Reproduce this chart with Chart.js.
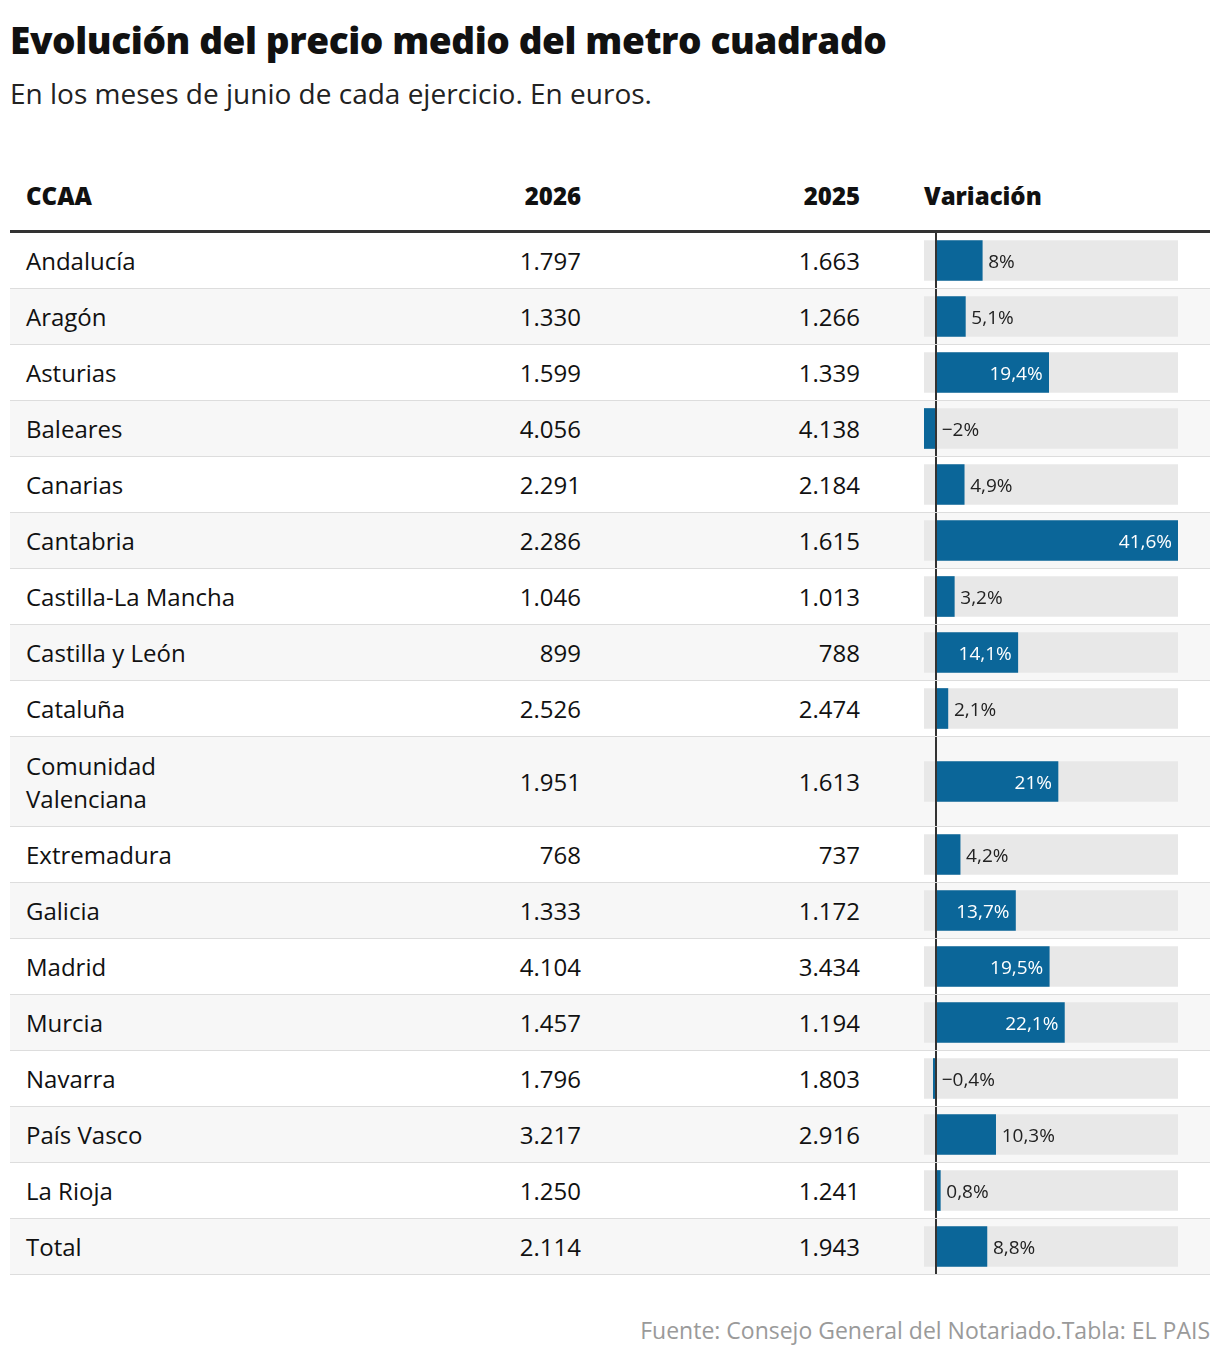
<!DOCTYPE html>
<html><head><meta charset="utf-8">
<script src="https://cdn.jsdelivr.net/npm/chart.js@4/dist/chart.umd.min.js"></script>
<style>
body{margin:0;background:#fff;font-family:"Open Sans",Roboto,sans-serif;color:#111;width:1220px;}
h1{position:absolute;left:10px;top:14px;margin:0;font-size:37px;font-weight:800;letter-spacing:-0.4px}
.sub{position:absolute;left:10px;top:74px;font-size:28px;color:#222}
table{position:absolute;left:10px;top:160px;width:1200px;border-collapse:collapse;font-size:24px}
th{font-weight:800;height:70px;border-bottom:3px solid #333;text-align:left;padding:0}
td{padding:0;border-bottom:1px solid #ddd;height:55px}
tr:nth-child(even) td{background:#f7f7f7}
.c1{padding-left:16px;width:424px}
.c2{text-align:right;width:131px}
.c3{text-align:right;width:279px}
.c4{position:relative;padding-left:64px}
.ch{position:absolute;left:64px;top:0;width:254px;height:100%}
.src{position:absolute;right:10px;top:1314px;font-size:23px;color:#9a9a9a}
</style></head><body>
<h1>Evolución del precio medio del metro cuadrado</h1>
<div class="sub">En los meses de junio de cada ejercicio. En euros.</div>
<table><thead><tr><th class="c1">CCAA</th><th class="c2">2026</th><th class="c3">2025</th><th class="c4" style="padding-left:64px">Variación</th></tr></thead><tbody id="tb"></tbody></table>
<div class="src">Fuente: Consejo General del Notariado.Tabla: EL PAIS</div>
<script>
const regions=["Andalucía","Aragón","Asturias","Baleares","Canarias","Cantabria","Castilla-La Mancha","Castilla y León","Cataluña","Comunidad<br>Valenciana","Extremadura","Galicia","Madrid","Murcia","Navarra","País Vasco","La Rioja","Total"];
const price2026=["1.797","1.330","1.599","4.056","2.291","2.286","1.046","899","2.526","1.951","768","1.333","4.104","1.457","1.796","3.217","1.250","2.114"];
const price2025=["1.663","1.266","1.339","4.138","2.184","1.615","1.013","788","2.474","1.613","737","1.172","3.434","1.194","1.803","2.916","1.241","1.943"];
const variation=[8,5.1,19.4,-2,4.9,41.6,3.2,14.1,2.1,21,4.2,13.7,19.5,22.1,-0.4,10.3,0.8,8.8];
const varMin=-2, varMax=41.6;
const tb=document.getElementById('tb');
const fmt=v=>(v<0?'−':'')+String(Math.abs(v)).replace('.',',')+'%';
regions.forEach((r,i)=>{
  const tr=document.createElement('tr');
  const h=i===9?89:55;
  tr.innerHTML=`<td class="c1" style="height:${h}px">${r}</td><td class="c2">${price2026[i]}</td><td class="c3">${price2025[i]}</td><td class="c4"><div class="ch"><canvas></canvas></div></td>`;
  tb.appendChild(tr);
  const v=variation[i];
  const labelPlugin={id:'lbl',afterDatasetsDraw(c){
    const ctx=c.ctx,x=c.scales.x,y=c.scales.y;
    const yy=y.getPixelForValue(0)+2;const inside=v>=13;
    ctx.save();ctx.font='19px "Open Sans"';ctx.textBaseline='middle';
    if(inside){ctx.fillStyle='#fff';ctx.textAlign='right';ctx.fillText(fmt(v),x.getPixelForValue(v)-6,yy);}
    else{ctx.fillStyle='#222';ctx.textAlign='left';ctx.fillText(fmt(v),x.getPixelForValue(Math.max(v,0))+6,yy);}
    ctx.restore();}};
  new Chart(tr.querySelector('canvas'),{type:'bar',
    data:{labels:[''],datasets:[
      {data:[[0,v]],backgroundColor:'#0b6699',barThickness:40,grouped:false,order:0},
      {data:[[varMin,varMax]],backgroundColor:'#e8e8e8',barThickness:40,grouped:false,order:1}]},
    options:{indexAxis:'y',responsive:true,maintainAspectRatio:false,animation:false,
      layout:{padding:0},
      plugins:{legend:{display:false},tooltip:{enabled:false}},
      scales:{x:{min:varMin,max:varMax,display:true,ticks:{display:false},border:{display:false},
        afterBuildTicks:s=>{s.ticks=[{value:0}];},
        grid:{color:'#333',lineWidth:2,drawTicks:false,z:1}},
        y:{display:false}}},
    plugins:[labelPlugin]});
});
</script></body></html>
